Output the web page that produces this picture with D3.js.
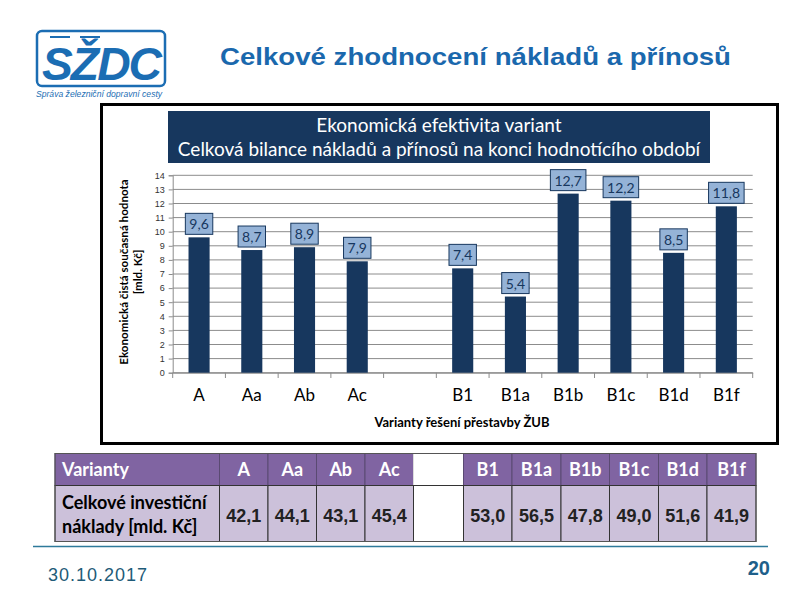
<!DOCTYPE html>
<html><head><meta charset="utf-8">
<script src="https://cdn.jsdelivr.net/npm/d3@7"></script>
<style>body{margin:0;background:#fff}svg{display:block}</style>
</head><body>
<svg id="c" width="800" height="600"></svg>
<script>
const categories = ["A","Aa","Ab","Ac","gap","B1","B1a","B1b","B1c","B1d","B1f"];
const values = [9.6, 8.7, 8.9, 7.9, null, 7.4, 5.4, 12.7, 12.2, 8.5, 11.8];
const valueLabels = ["9,6","8,7","8,9","7,9","","7,4","5,4","12,7","12,2","8,5","11,8"];
const yTicks = [0,1,2,3,4,5,6,7,8,9,10,11,12,13,14];
const tableHeader = ["Varianty","A","Aa","Ab","Ac","","B1","B1a","B1b","B1c","B1d","B1f"];
const tableCosts = ["","42,1","44,1","43,1","45,4","","53,0","56,5","47,8","49,0","51,6","41,9"];
const tableColEdges = [55,219.5,268,316.5,365,413.5,463.5,512,561,609.5,658.5,707,756];

const svg = d3.select("#c");
const F = "Lato, 'Noto Sans', sans-serif";
const A = "'Liberation Sans', Arial, sans-serif";

// Logo
const logo = svg.append("g");
logo.append("rect").attr("x",37).attr("y",31).attr("width",128).attr("height",55).attr("rx",5)
  .attr("fill","#fff").attr("stroke","#1b6db3").attr("stroke-width",2.5);
logo.append("text").attr("x",101).attr("y",80).attr("text-anchor","middle")
  .attr("font-family",A).attr("font-weight","bold").attr("font-style","italic").attr("font-size",46)
  .attr("fill","#1b6db3").attr("letter-spacing",-2).attr("textLength",118).attr("lengthAdjust","spacingAndGlyphs").text("SŽDC");
logo.append("path").attr("d","M50,37 L70,37 M80,37 L100,37").attr("stroke","#1b6db3").attr("stroke-width",2.2);
logo.append("text").attr("x",36).attr("y",97).attr("font-family",A).attr("font-style","italic")
  .attr("font-size",8.6).attr("fill","#1b6db3").text("Správa železniční dopravní cesty");

// Page title
svg.append("text").attr("x",220).attr("y",65)
  .attr("font-family",A).attr("font-weight","bold").attr("font-size",24).attr("fill","#1a68ad")
  .attr("textLength",511).attr("lengthAdjust","spacingAndGlyphs")
  .text("Celkové zhodnocení nákladů a přínosů");

// Chart frame
svg.append("rect").attr("x",101.5).attr("y",104.5).attr("width",676).attr("height",339)
  .attr("fill","#fff").attr("stroke","#000").attr("stroke-width",3);

// Chart title box
svg.append("rect").attr("x",168).attr("y",111).attr("width",542).attr("height",52).attr("fill","#17375e");
svg.append("text").attr("x",439).attr("y",132).attr("text-anchor","middle").attr("font-family",F)
  .attr("font-size",19).attr("fill","#fff").text("Ekonomická efektivita variant");
svg.append("text").attr("x",439).attr("y",156).attr("text-anchor","middle").attr("font-family",F)
  .attr("font-size",19).attr("fill","#fff").text("Celková bilance nákladů a přínosů na konci hodnotícího období");

// Scales
const x = d3.scaleBand().domain(categories).range([172.7,752.7]).padding(0);
const y = d3.scaleLinear().domain([0,14]).range([372.7,175.3]);

// Gridlines
svg.append("g").selectAll("line").data(yTicks).join("line")
  .attr("x1",172.7).attr("x2",752.7).attr("y1",d=>y(d)).attr("y2",d=>y(d))
  .attr("stroke","#8c8c8c").attr("stroke-width",1);

// Y axis
const yAxis = svg.append("g").attr("transform","translate(172.7,0)")
  .call(d3.axisLeft(y).tickValues(yTicks).tickSize(4).tickPadding(4));
yAxis.select(".domain").attr("stroke","#8c8c8c");
yAxis.selectAll(".tick line").attr("stroke","#8c8c8c");
yAxis.selectAll("text").attr("font-family",A).attr("font-size",9).attr("fill","#333");

// X axis
const xAxis = svg.append("g").attr("transform","translate(0,372.7)")
  .call(d3.axisBottom(x).tickSize(0).tickPadding(16).tickFormat(d=>d==="gap"?"":d));
xAxis.select(".domain").attr("stroke","#8c8c8c");
xAxis.selectAll("text").attr("font-family",F).attr("font-size",17).attr("fill","#000");
svg.append("g").selectAll("line").data(categories.concat(["end"])).join("line")
  .attr("x1",(d,i)=>172.7+i*x.step()).attr("x2",(d,i)=>172.7+i*x.step())
  .attr("y1",372.7).attr("y2",378).attr("stroke","#8c8c8c");

// Bars
const data = categories.map((c,i)=>({c, v: values[i], l: valueLabels[i]})).filter(d=>d.v!==null);
svg.append("g").selectAll("rect").data(data).join("rect")
  .attr("x",d=>x(d.c)+x.bandwidth()*0.3).attr("width",x.bandwidth()*0.4)
  .attr("y",d=>y(d.v)).attr("height",d=>y(0)-y(d.v)).attr("fill","#17375e");

// Labels
const lab = svg.append("g").selectAll("g").data(data).join("g");
lab.append("text").attr("x",d=>x(d.c)+x.bandwidth()/2).attr("y",d=>y(d.v)-8)
  .attr("text-anchor","middle").attr("font-family",F).attr("font-size",14).attr("fill","#17375e").text(d=>d.l);
lab.each(function(d){
  const g=d3.select(this); const t=g.select("text"); const bb=t.node().getBBox();
  g.insert("rect","text").attr("x",bb.x-4).attr("y",y(d.v)-24).attr("width",bb.width+8).attr("height",21)
    .attr("fill","#95b3d7").attr("stroke","#17375e").attr("stroke-width",1);
});

// Axis titles
svg.append("text").attr("transform","translate(128,272) rotate(-90)").attr("text-anchor","middle")
  .attr("font-family",F).attr("font-weight","bold").attr("font-size",11.6).text("Ekonomická čistá současná hodnota");
svg.append("text").attr("transform","translate(142,272) rotate(-90)").attr("text-anchor","middle")
  .attr("font-family",F).attr("font-weight","bold").attr("font-size",11.6).text("[mld. Kč]");
svg.append("text").attr("x",462).attr("y",427).attr("text-anchor","middle")
  .attr("font-family",F).attr("font-weight","bold").attr("font-size",13).text("Varianty řešení přestavby ŽUB");

// Table
const rowY = [453.5,485.5,541.5];
const tbl = svg.append("g");
tableHeader.forEach((h,i)=>{
  const x0=tableColEdges[i], x1=tableColEdges[i+1];
  const blank = i===5;
  tbl.append("rect").attr("x",x0).attr("y",rowY[0]).attr("width",x1-x0).attr("height",rowY[1]-rowY[0])
    .attr("fill",blank?"#fff":"#8064a2").attr("stroke",blank?"#ddd":"#5a4a72").attr("stroke-width",1);
  tbl.append("rect").attr("x",x0).attr("y",rowY[1]).attr("width",x1-x0).attr("height",rowY[2]-rowY[1])
    .attr("fill",blank?"#fff":"#ccc1da").attr("stroke","#333").attr("stroke-width",1);
  if(i===0){
    tbl.append("text").attr("x",x0+7).attr("y",476).attr("font-family",F).attr("font-weight","bold")
      .attr("font-size",18).attr("fill","#fff").text(h);
    tbl.append("text").attr("x",x0+7).attr("y",509).attr("font-family",F).attr("font-weight","bold")
      .attr("font-size",18).attr("fill","#000").text("Celkové investiční");
    tbl.append("text").attr("x",x0+7).attr("y",533).attr("font-family",F).attr("font-weight","bold")
      .attr("font-size",18).attr("fill","#000").text("náklady [mld. Kč]");
  } else if(!blank){
    tbl.append("text").attr("x",(x0+x1)/2).attr("y",476).attr("text-anchor","middle").attr("font-family",F)
      .attr("font-weight","bold").attr("font-size",18).attr("fill","#fff").text(h);
    tbl.append("text").attr("x",(x0+x1)/2).attr("y",522).attr("text-anchor","middle").attr("font-family",A)
      .attr("font-weight","bold").attr("font-size",18).attr("fill","#222").text(tableCosts[i]);
  }
});
tbl.append("rect").attr("x",55).attr("y",rowY[0]).attr("width",701).attr("height",rowY[2]-rowY[0])
  .attr("fill","none").attr("stroke","#555").attr("stroke-width",1);

// Footer
svg.append("line").attr("x1",33).attr("x2",768).attr("y1",546.5).attr("y2",546.5).attr("stroke","#2e7a9a").attr("stroke-width",1.5);
svg.append("text").attr("x",48).attr("y",581).attr("font-family",A).attr("font-size",18).attr("fill","#1e5b78")
  .attr("textLength",99).text("30.10.2017");
svg.append("text").attr("x",770).attr("y",575).attr("text-anchor","end").attr("font-family",A)
  .attr("font-weight","bold").attr("font-size",20).attr("fill","#1e5f8a").text("20");
</script>
</body></html>
